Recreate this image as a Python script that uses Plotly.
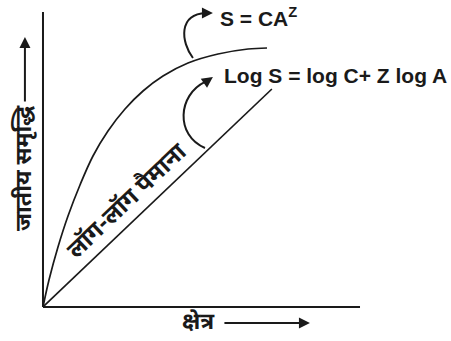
import plotly.graph_objects as go

# Species–area relationship: arithmetic curve and its log–log straight line
area_curve = [0, 0.189, 0.473, 0.789, 1.167, 1.577, 2.050, 2.587, 3.155,
              3.785, 4.574, 5.521, 6.467, 7.066]
richness_curve = [0, 0.915, 2.034, 3.085, 4.136, 5.119, 5.966, 6.712, 7.322,
                  7.831, 8.271, 8.576, 8.746, 8.780]

area_line = [0, 7.22]
richness_line = [0, 7.39]

x_label = "क्षेत्र"
y_label = "जातीय समृद्धि"
line_label = "लॉग-लॉग पैमाना"
power_eq = "S = CA<sup>Z</sup>"
log_eq = "Log S = log C+ Z log A"

HINDI = "Noto Sans Devanagari, Lohit Devanagari, Noto Sans, sans-serif"
LATIN = "Liberation Sans, Arial, sans-serif"
INK = "#1a1a1a"

fig = go.Figure()

fig.add_trace(go.Scatter(x=area_curve, y=richness_curve, mode="lines",
                         line=dict(color=INK, width=1.7, shape="spline", smoothing=1.0),
                         hoverinfo="skip"))
fig.add_trace(go.Scatter(x=area_line, y=richness_line, mode="lines",
                         line=dict(color=INK, width=1.7), hoverinfo="skip"))

shapes = [
    # axes
    dict(type="line", x0=0, y0=0, x1=0, y1=10, line=dict(color=INK, width=2)),
    dict(type="line", x0=0, y0=0, x1=10, y1=0, line=dict(color=INK, width=2)),
    # curved pointer from the curve to its equation
    dict(type="path", path="M 4.73,8.44 C 4.35,8.98 4.26,9.93 5.14,9.97",
         line=dict(color=INK, width=2)),
    # curved pointer from the straight line to its equation
    dict(type="path", path="M 5.11,5.39 C 4.16,5.83 4.26,7.19 5.11,7.63",
         line=dict(color=INK, width=2)),
]

annotations = [
    dict(x=5.52, y=9.83, text="<b>" + power_eq + "</b>", xanchor="left", yanchor="middle",
         showarrow=False, font=dict(family=LATIN, size=21, color=INK)),
    dict(x=5.65, y=7.86, text="<b>" + log_eq + "</b>", xanchor="left", yanchor="middle",
         showarrow=False, font=dict(family=LATIN, size=21, color=INK)),
    dict(x=2.68, y=3.56, text="<b>" + line_label + "</b>", textangle=-43.6, showarrow=False,
         font=dict(family=HINDI, size=24, color=INK)),
    dict(x=-0.57, y=4.71, text="<b>" + y_label + "</b>", textangle=-90, showarrow=False,
         font=dict(family=HINDI, size=23, color=INK)),
    dict(x=4.89, y=-0.54, text="<b>" + x_label + "</b>", showarrow=False,
         font=dict(family=HINDI, size=23, color=INK)),
    # arrowheads
    dict(x=5.36, y=9.97, ax=-12, ay=0, text="", showarrow=True, arrowhead=2,
         arrowsize=1.1, arrowwidth=2, arrowcolor=INK),
    dict(x=5.36, y=7.80, ax=-10, ay=7, text="", showarrow=True, arrowhead=2,
         arrowsize=1.1, arrowwidth=2, arrowcolor=INK),
    dict(x=-0.57, y=9.15, ax=0, ay=66, text="", showarrow=True, arrowhead=2,
         arrowsize=1.1, arrowwidth=2, arrowcolor=INK),
    dict(x=8.42, y=-0.54, ax=-87, ay=0, text="", showarrow=True, arrowhead=2,
         arrowsize=1.1, arrowwidth=2, arrowcolor=INK),
]

fig.update_layout(
    width=451, height=341,
    margin=dict(l=0, r=0, t=0, b=0),
    paper_bgcolor="white", plot_bgcolor="white",
    showlegend=False,
    shapes=shapes, annotations=annotations,
    xaxis=dict(range=[-1.356, 12.87], visible=False, fixedrange=True),
    yaxis=dict(range=[-1.153, 10.407], visible=False, fixedrange=True),
)

fig.write_html("out.html", config={"displayModeBar": False})
